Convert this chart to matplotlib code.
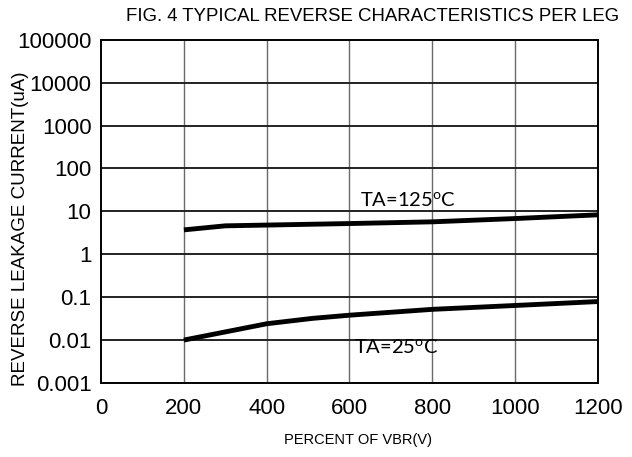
import matplotlib
matplotlib.use("Agg")
import matplotlib.pyplot as plt
from matplotlib.ticker import FixedLocator, FixedFormatter

# percent of VBR vs reverse leakage current (uA)
vbr_125 = [200, 300, 600, 800, 1000, 1200]
ir_125 = [3.7, 4.6, 5.2, 5.7, 6.8, 8.3]

vbr_25 = [200, 400, 510, 600, 800, 1000, 1200]
ir_25 = [0.010, 0.024, 0.032, 0.038, 0.052, 0.064, 0.079]

x_ticks = [0, 200, 400, 600, 800, 1000, 1200]
y_ticks = [0.001, 0.01, 0.1, 1, 10, 100, 1000, 10000, 100000]
y_labels = ["0.001", "0.01", "0.1", "1", "10", "100", "1000", "10000", "100000"]

plt.rcParams["font.family"] = "Liberation Sans"
plt.rcParams["mathtext.fontset"] = "custom"
plt.rcParams["mathtext.rm"] = "Lato"

fig = plt.figure(figsize=(6.32, 4.57), dpi=100)
ax = fig.add_axes([0.160, 0.162, 0.786, 0.751])

ax.set_yscale("log")
ax.set_xlim(0, 1200)
ax.set_ylim(0.001, 100000)

# grid: vertical lines lighter, horizontal decades darker
for x in x_ticks[1:-1]:
    ax.axvline(x, color="#6a6a6a", lw=1.0, zorder=1)
for y in y_ticks[1:-1]:
    ax.axhline(y, color="#222222", lw=1.4, zorder=1)

ax.plot(vbr_125, ir_125, color="black", lw=3.5, solid_capstyle="butt", zorder=3)
ax.plot(vbr_25, ir_25, color="black", lw=3.5, solid_capstyle="butt", zorder=3)

ax.yaxis.set_major_locator(FixedLocator(y_ticks))
ax.yaxis.set_major_formatter(FixedFormatter(y_labels))
ax.yaxis.set_minor_locator(FixedLocator([]))
ax.set_xticks(x_ticks)
ax.tick_params(axis="both", length=0, labelsize=16)
ax.tick_params(axis="y", pad=7)
ax.tick_params(axis="x", pad=11)

for s in ax.spines.values():
    s.set_linewidth(1.4)
    s.set_color("black")

ax.text(625, 18, "TA=125$^\\mathrm{o}$C", fontsize=14.5, family="Lato",
        va="center", ha="left", zorder=4)
ax.text(612, 0.0065, "TA=25$^\\mathrm{o}$C", fontsize=14.5, family="Lato",
        va="center", ha="left", zorder=4)

ax.set_xlabel("PERCENT OF VBR(V)", fontsize=10.5)
ax.xaxis.set_label_coords(0.517, -0.146)
ax.set_ylabel("REVERSE LEAKAGE CURRENT(uA)", fontsize=13.5)
ax.yaxis.set_label_coords(-0.145, 0.449)

fig.text(0.590, 0.963, "FIG. 4 TYPICAL REVERSE CHARACTERISTICS PER LEG",
         fontsize=13.4, ha="center", va="center")

fig.savefig("out.png", dpi=100)
